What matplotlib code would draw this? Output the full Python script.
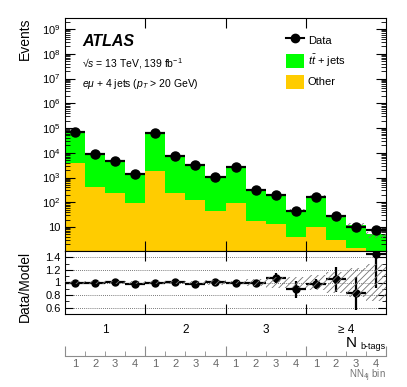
import numpy as np
import matplotlib
matplotlib.use('Agg')
import matplotlib.pyplot as plt
from matplotlib.lines import Line2D
from matplotlib.patches import Patch
from matplotlib.ticker import FixedLocator, LogLocator, NullFormatter, FuncFormatter, MultipleLocator

plt.rcParams['font.family'] = ['Liberation Sans', 'DejaVu Sans']
plt.rcParams['mathtext.fontset'] = 'custom'
plt.rcParams['mathtext.rm'] = 'Liberation Sans'
plt.rcParams['mathtext.it'] = 'Liberation Sans:italic'
plt.rcParams['mathtext.bf'] = 'Liberation Sans:bold'
plt.rcParams['hatch.linewidth'] = 0.6

# 데이터
nb_groups = ['1', '2', '3', '≥ 4']
nn_bins = ['1', '2', '3', '4'] * 4
other = [3700, 430, 240, 96, 1800, 240, 120, 46, 91, 18, 13, 3.8, 9.7, 2.9, 1.4, 1.1]
ttbar = [67000, 8700, 4150, 1300, 59000, 7150, 3300, 1000, 2500, 310, 177, 45, 160, 24, 10.6, 3.9]
ratio = [1.00, 0.985, 1.015, 0.98, 0.995, 1.005, 0.98, 1.015, 0.99, 0.99,
         1.07, 0.89, 0.98, 1.055, 0.83, 1.46]
model_unc = [0.02, 0.02, 0.025, 0.03, 0.02, 0.025, 0.03, 0.035, 0.03, 0.05,
             0.08, 0.085, 0.12, 0.17, 0.23, 0.3]

other = np.array(other)
ttbar = np.array(ttbar)
total = other + ttbar
ratio = np.array(ratio)
model_unc = np.array(model_unc)
data = ratio * total
data_err = np.sqrt(data)
ratio_err = data_err / total

nbins = len(total)
xc = np.arange(nbins) + 0.5

W, H = 407, 387
fig = plt.figure(figsize=(W / 100, H / 100), dpi=100)
L, R = 65, 386

def box(top, bot):
    return [L / W, 1 - bot / H, (R - L) / W, (bot - top) / H]

green = '#00ff00'
orange = '#ffcc00'

# 메인 패널
ax = fig.add_axes(box(18, 251))
ax.bar(xc, other, width=1, color=orange, linewidth=0, zorder=1)
ax.bar(xc, ttbar, width=1, bottom=other, color=green, linewidth=0, zorder=1)
ax.bar(xc, 2 * model_unc * total, width=1, bottom=total * (1 - model_unc),
       fill=False, hatch='/////', edgecolor='0.45', linewidth=0, zorder=4)
ax.errorbar(xc, data, xerr=0.5, yerr=data_err, fmt='o', color='k', ms=6.5,
            elinewidth=1.6, capsize=0, zorder=5)
ax.set_yscale('log')
ax.set_xlim(0, nbins)
ax.set_ylim(1.07, 2.8e9)
ax.yaxis.set_major_locator(FixedLocator([10.0 ** k for k in range(1, 10)]))
ax.yaxis.set_minor_locator(LogLocator(base=10, subs=np.arange(2, 10), numticks=30))
ax.yaxis.set_minor_formatter(NullFormatter())
ax.yaxis.set_major_formatter(FuncFormatter(
    lambda v, p: '10' if round(np.log10(v)) == 1 else r'$10^{%d}$' % round(np.log10(v))))
ax.set_xticks([4, 8, 12])
ax.set_xticklabels([])
ax.tick_params(axis='both', which='both', direction='in', top=True, right=True)
ax.tick_params(axis='x', length=7)
ax.tick_params(axis='y', which='major', length=7, labelsize=8, pad=3)
ax.tick_params(axis='y', which='minor', length=3.5)
ax.set_ylabel('Events', loc='top', fontsize=10)
ax.yaxis.set_label_coords(-0.103, 1.0)

ax.text(82 / W, 1 - 41 / H, 'ATLAS', transform=fig.transFigure, fontsize=11.5,
        fontweight='bold', style='italic', va='center')
ax.text(82 / W, 1 - 64 / H, '√$s$ = 13 TeV, 139 fb$^{-1}$', transform=fig.transFigure,
        fontsize=7.5, va='center')
ax.text(82 / W, 1 - 84 / H, r'$e\mu$ + 4 jets ($p_{T}$ > 20 GeV)', transform=fig.transFigure,
        fontsize=7.5, va='center')

handles = [Line2D([], [], color='k', marker='o', ms=6, lw=1.5),
           Patch(facecolor=green, edgecolor='none'),
           Patch(facecolor=orange, edgecolor='none')]
ax.legend(handles, ['Data', r'$t\bar{t}$ + jets', 'Other'], loc='upper left',
          bbox_to_anchor=(286 / W, 1 - 33 / H), bbox_transform=fig.transFigure,
          frameon=False, fontsize=8, handlelength=1.6, handleheight=1.6,
          handletextpad=0.35, labelspacing=0.5, borderpad=0, borderaxespad=0)

# 비율 패널
rax = fig.add_axes(box(251, 314))
rax.bar(xc, 2 * model_unc, width=1, bottom=1 - model_unc, fill=False, hatch='/////',
        edgecolor='0.45', linewidth=0, zorder=4)
rax.errorbar(xc, ratio, xerr=0.5, yerr=ratio_err, fmt='o', color='k', ms=5,
             elinewidth=1.6, capsize=0, zorder=3)
rax.set_xlim(0, nbins)
rax.set_ylim(0.5, 1.5)
for g in [0.6, 0.8, 1.0, 1.2, 1.4]:
    rax.axhline(g, color='0.3', lw=0.6, ls=(0, (1, 1.5)), zorder=1)
rax.yaxis.set_major_locator(FixedLocator([0.6, 0.8, 1.0, 1.2, 1.4]))
rax.yaxis.set_minor_locator(MultipleLocator(0.1))
rax.yaxis.set_major_formatter(FuncFormatter(lambda v, p: ('%.1f' % v).rstrip('0').rstrip('.')))
rax.set_xticks([4, 8, 12])
rax.set_xticklabels([])
rax.set_xticks([2, 6, 10, 14], minor=True)
rax.set_xticklabels(nb_groups, minor=True, fontsize=8.5)
rax.tick_params(axis='both', which='both', direction='in', top=True, right=True)
rax.tick_params(axis='x', which='major', length=7)
rax.tick_params(axis='x', which='minor', length=0, pad=7)
rax.tick_params(axis='y', which='major', length=6, labelsize=8, pad=3)
rax.tick_params(axis='y', which='minor', length=3)
rax.set_ylabel('Data/Model', fontsize=10)
rax.yaxis.set_label_coords(-0.103, 0.44)

fig.text(357 / W, 1 - 347 / H, 'N', fontsize=11, ha='right', va='baseline')
fig.text(386 / W, 1 - 349 / H, 'b-tags', fontsize=6.5, ha='right', va='baseline')

# NN 빈 축
nax = fig.add_axes([L / W, 1 - 356 / H, (R - L) / W, 0.0001])
for s in ['left', 'right', 'top']:
    nax.spines[s].set_visible(False)
nax.spines['bottom'].set_color('0.55')
nax.set_xlim(0, nbins)
nax.set_yticks([])
nax.set_xticks([0, 4, 8, 12, 16])
nax.set_xticks(np.arange(nbins + 1), minor=True)
nax.set_xticklabels([])
nax.tick_params(axis='x', which='both', direction='in', color='0.55')
nax.tick_params(axis='x', which='major', length=7)
nax.tick_params(axis='x', which='minor', length=3.5)
sec = nax.secondary_xaxis('bottom')
sec.set_xticks(xc)
sec.set_xticklabels(nn_bins, fontsize=8, color='0.4')
sec.tick_params(length=0, pad=2)
sec.spines['bottom'].set_visible(False)

fig.text(386 / W, 1 - 378 / H, r'NN$_{\mathregular{4j}}$ bin', fontsize=7, color='0.45',
         ha='right', va='baseline')

fig.savefig('out.png', dpi=100)
